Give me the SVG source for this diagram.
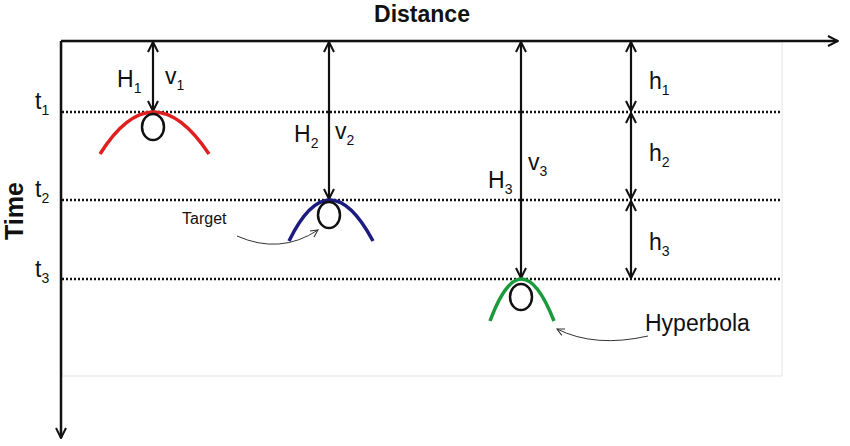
<svg xmlns="http://www.w3.org/2000/svg" width="850" height="446" viewBox="0 0 850 446">
<style>
text{font-family:"Liberation Sans",Arial,sans-serif;fill:#111}
.l{font-size:23px}.s{font-size:14px}
.ax{stroke:#111;stroke-width:2.5;fill:none}
.ar{stroke:#111;stroke-width:2.2;fill:none;marker-start:url(#o);marker-end:url(#o)}
.d{stroke:#111;stroke-width:2.5;stroke-dasharray:2 2;fill:none}
.c{stroke:#111;stroke-width:2.5;fill:#fff}
.t{stroke:#333;stroke-width:1;fill:none;marker-end:url(#s)}
</style>
<defs>
<marker id="o" viewBox="0 0 12 12" refX="11" refY="6" markerWidth="12" markerHeight="12" markerUnits="userSpaceOnUse" orient="auto-start-reverse"><path d="M1,1 L11,6 L1,11" fill="none" stroke="#111" stroke-width="2"/></marker>
<marker id="s" viewBox="0 0 10 10" refX="9" refY="5" markerWidth="9" markerHeight="9" markerUnits="userSpaceOnUse" orient="auto"><path d="M1,1 L9,5 L1,9" fill="none" stroke="#333" stroke-width="1.2"/></marker>
</defs>
<rect x="62" y="42" width="720" height="334" fill="none" stroke="#e4e4e4" stroke-width="1"/>
<g id="axes">
<path class="ax" d="M61,41 H838" marker-end="url(#o)"/>
<path class="ax" d="M61,41 V438" marker-end="url(#o)"/>
<text class="l" x="422" y="22" text-anchor="middle" font-weight="bold">Distance</text>
<text transform="translate(23,211) rotate(-90)" text-anchor="middle" font-size="25" font-weight="bold">Time</text>
</g>
<g id="levels">
<path class="d" d="M62,112 H782 M62,200 H782 M62,279 H782"/>
<text class="l" x="35" y="109">t<tspan class="s" dy="6">1</tspan></text>
<text class="l" x="35" y="197">t<tspan class="s" dy="6">2</tspan></text>
<text class="l" x="35" y="277">t<tspan class="s" dy="6">3</tspan></text>
</g>
<g id="connectors">
<path class="ar" d="M153,42 V111"/>
<path class="ar" d="M329,42 V199"/>
<path class="ar" d="M521,42 V278"/>
<path class="ar" d="M631,42 V111"/>
<path class="ar" d="M631,113 V199"/>
<path class="ar" d="M631,201 V278"/>
<path class="t" d="M237,236 Q280,255 318,230"/>
<path class="t" d="M648,336 Q595,348 557,329"/>
</g>
<g id="target1">
<path d="M100,154 Q153,70 209,154" stroke="#e02020" stroke-width="3.5" fill="none"/>
<ellipse class="c" cx="153" cy="127" rx="11" ry="13"/>
<text class="l" x="117" y="87">H<tspan class="s" dy="6">1</tspan></text>
<text class="l" x="165" y="84">v<tspan class="s" dy="6">1</tspan></text>
</g>
<g id="target2">
<path d="M289,241 Q329,159 373,241" stroke="#1c1c80" stroke-width="3.5" fill="none"/>
<ellipse class="c" cx="329" cy="215" rx="11" ry="13"/>
<text class="l" x="294" y="142">H<tspan class="s" dy="6">2</tspan></text>
<text class="l" x="335" y="139">v<tspan class="s" dy="6">2</tspan></text>
<text x="182" y="224" font-size="16">Target</text>
</g>
<g id="target3">
<path d="M490,321 Q521,237 554,321" stroke="#1a9a3a" stroke-width="3.5" fill="none"/>
<ellipse class="c" cx="521" cy="297" rx="11" ry="13"/>
<text class="l" x="488" y="188">H<tspan class="s" dy="6">3</tspan></text>
<text class="l" x="528" y="170">v<tspan class="s" dy="6">3</tspan></text>
<text class="l" x="645" y="331">Hyperbola</text>
</g>
<g id="layers">
<text class="l" x="649" y="89">h<tspan class="s" dy="6">1</tspan></text>
<text class="l" x="649" y="161">h<tspan class="s" dy="6">2</tspan></text>
<text class="l" x="649" y="250">h<tspan class="s" dy="6">3</tspan></text>
</g>
</svg>
